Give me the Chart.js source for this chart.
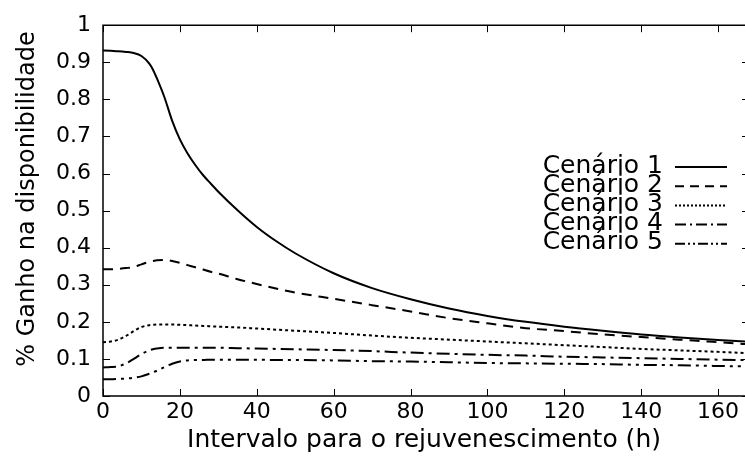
<!DOCTYPE html>
<html>
<head>
<meta charset="utf-8">
<script src="https://cdn.jsdelivr.net/npm/chart.js@4/dist/chart.umd.min.js"></script>
<style>
html,body{margin:0;padding:0;background:#fff;}
#c{display:block;}
</style>
</head>
<body>
<canvas id="c" width="745" height="458"></canvas>
<script>
// ---- data ----
const hours = [0,2,4,6,8,10,12,13,14,16,18,20,22,24,26,28,30,35,40,45,50,60,70,80,90,100,110,120,130,140,150,160,167];
const cenario1 = [0.932,0.931,0.930,0.928,0.925,0.917,0.897,0.880,0.857,0.805,0.742,0.692,0.654,0.623,0.596,0.573,0.551,0.501,0.456,0.418,0.385,0.331,0.291,0.261,0.236,0.216,0.200,0.187,0.176,0.166,0.158,0.151,0.147];
const cenario2 = [0.342,0.342,0.343,0.345,0.348,0.355,0.362,0.364,0.366,0.367,0.364,0.359,0.353,0.347,0.341,0.335,0.330,0.315,0.302,0.290,0.279,0.262,0.245,0.228,0.210,0.196,0.183,0.175,0.166,0.159,0.152,0.145,0.140];
const cenario3 = [0.145,0.147,0.152,0.162,0.175,0.186,0.191,0.192,0.193,0.193,0.193,0.192,0.191,0.190,0.189,0.188,0.187,0.185,0.182,0.179,0.176,0.170,0.163,0.157,0.152,0.147,0.142,0.137,0.132,0.127,0.123,0.119,0.116];
const cenario4 = [0.077,0.078,0.080,0.088,0.100,0.113,0.123,0.126,0.128,0.130,0.130,0.130,0.130,0.130,0.130,0.130,0.130,0.129,0.128,0.127,0.126,0.124,0.121,0.117,0.114,0.111,0.109,0.106,0.104,0.102,0.100,0.098,0.097];
const cenario5 = [0.045,0.045,0.046,0.047,0.049,0.053,0.060,0.064,0.068,0.078,0.087,0.093,0.096,0.097,0.097,0.098,0.098,0.098,0.098,0.097,0.097,0.096,0.094,0.093,0.091,0.089,0.088,0.087,0.086,0.084,0.083,0.081,0.080];
const seriesNames = ['Cenário 1','Cenário 2','Cenário 3','Cenário 4','Cenário 5'];
const xTitle = 'Intervalo para o rejuvenescimento (h)';
const yTitle = '% Ganho na disponibilidade';

// ---- styles ----
const FONT = 'DejaVu Sans';
const dashes = [[], [10,7], [3,3], [13,5,3,5], [13,5,3,5,3,5]];
const legendDashes = [[], [9,6], [2,2], [11,4,2,4], [10,3,2,3,2,3]];
const allSeries = [cenario1,cenario2,cenario3,cenario4,cenario5];

const datasets = allSeries.map((vals,i)=>({
  label: seriesNames[i],
  data: hours.map((h,j)=>({x:h,y:vals[j]})),
  borderColor:'#000',
  borderWidth:2,
  borderDash:dashes[i],
  pointRadius:0,
  fill:false,
  cubicInterpolationMode:'monotone'
}));

const framePlugin = {
  id:'frame',
  afterDraw(chart){
    const {ctx, chartArea:a, scales:{x,y}} = chart;
    ctx.save();
    ctx.strokeStyle='#000';
    ctx.lineWidth=1.5;
    ctx.setLineDash([]);
    ctx.beginPath();
    ctx.moveTo(a.right+2, a.top); ctx.lineTo(a.left, a.top);
    ctx.lineTo(a.left, a.bottom); ctx.lineTo(a.right+2, a.bottom);
    ctx.stroke();
    ctx.lineWidth=1;
    const tl=7;
    ctx.beginPath();
    x.ticks.forEach(t=>{
      const px=Math.round(x.getPixelForValue(t.value))+0.5;
      ctx.moveTo(px,a.bottom); ctx.lineTo(px,a.bottom-tl);
      ctx.moveTo(px,a.top); ctx.lineTo(px,a.top+tl);
    });
    y.ticks.forEach(t=>{
      const py=Math.round(y.getPixelForValue(t.value))+0.5;
      ctx.moveTo(a.left,py); ctx.lineTo(a.left+tl,py);
      ctx.moveTo(a.right-3,py); ctx.lineTo(a.right+2,py);
    });
    ctx.stroke();
    // y axis title
    ctx.save();
    ctx.font = '24px "'+FONT+'"';
    ctx.fillStyle='#000';
    ctx.textAlign='center';
    ctx.textBaseline='middle';
    ctx.translate(28, 199);
    ctx.rotate(-Math.PI/2);
    ctx.fillText(yTitle, 0, 0);
    ctx.restore();
    // legend
    ctx.font = '25px "'+FONT+'"';
    ctx.fillStyle='#000';
    ctx.textAlign='right';
    ctx.textBaseline='middle';
    const textRight=663, x0=675, x1=727, y0=167, dy=19.2;
    chart.data.datasets.forEach((ds,i)=>{
      const ry=y0+i*dy;
      ctx.fillText(ds.label, textRight, ry-1);
      ctx.beginPath();
      ctx.lineWidth=2;
      ctx.setLineDash(legendDashes[i]);
      ctx.moveTo(x0,ry); ctx.lineTo(x1,ry);
      ctx.stroke();
    });
    ctx.restore();
  }
};

new Chart(document.getElementById('c'), {
  type:'line',
  data:{datasets},
  options:{
    responsive:false,
    animation:false,
    layout:{padding:{left:0,top:17,right:0,bottom:0}},
    plugins:{legend:{display:false},tooltip:{enabled:false}},
    scales:{
      x:{
        type:'linear', min:0, max:167,
        border:{display:false},
        grid:{display:false, drawTicks:false},
        ticks:{stepSize:20, includeBounds:false, padding:3, color:'#000', font:{family:FONT,size:22}, maxRotation:0},
        title:{display:true, text:xTitle, color:'#000', font:{family:FONT,size:25}, padding:{top:0,bottom:3}},
        afterFit(s){ s.height=62; }
      },
      y:{
        min:0, max:1,
        border:{display:false},
        grid:{display:false, drawTicks:false},
        ticks:{stepSize:0.1, padding:12, color:'#000', font:{family:FONT,size:22},
          callback:v=>String(Math.round(v*10)/10)},
        title:{display:false},
        afterFit(s){ s.width=103; }
      }
    }
  },
  plugins:[framePlugin]
});
</script>
</body>
</html>
